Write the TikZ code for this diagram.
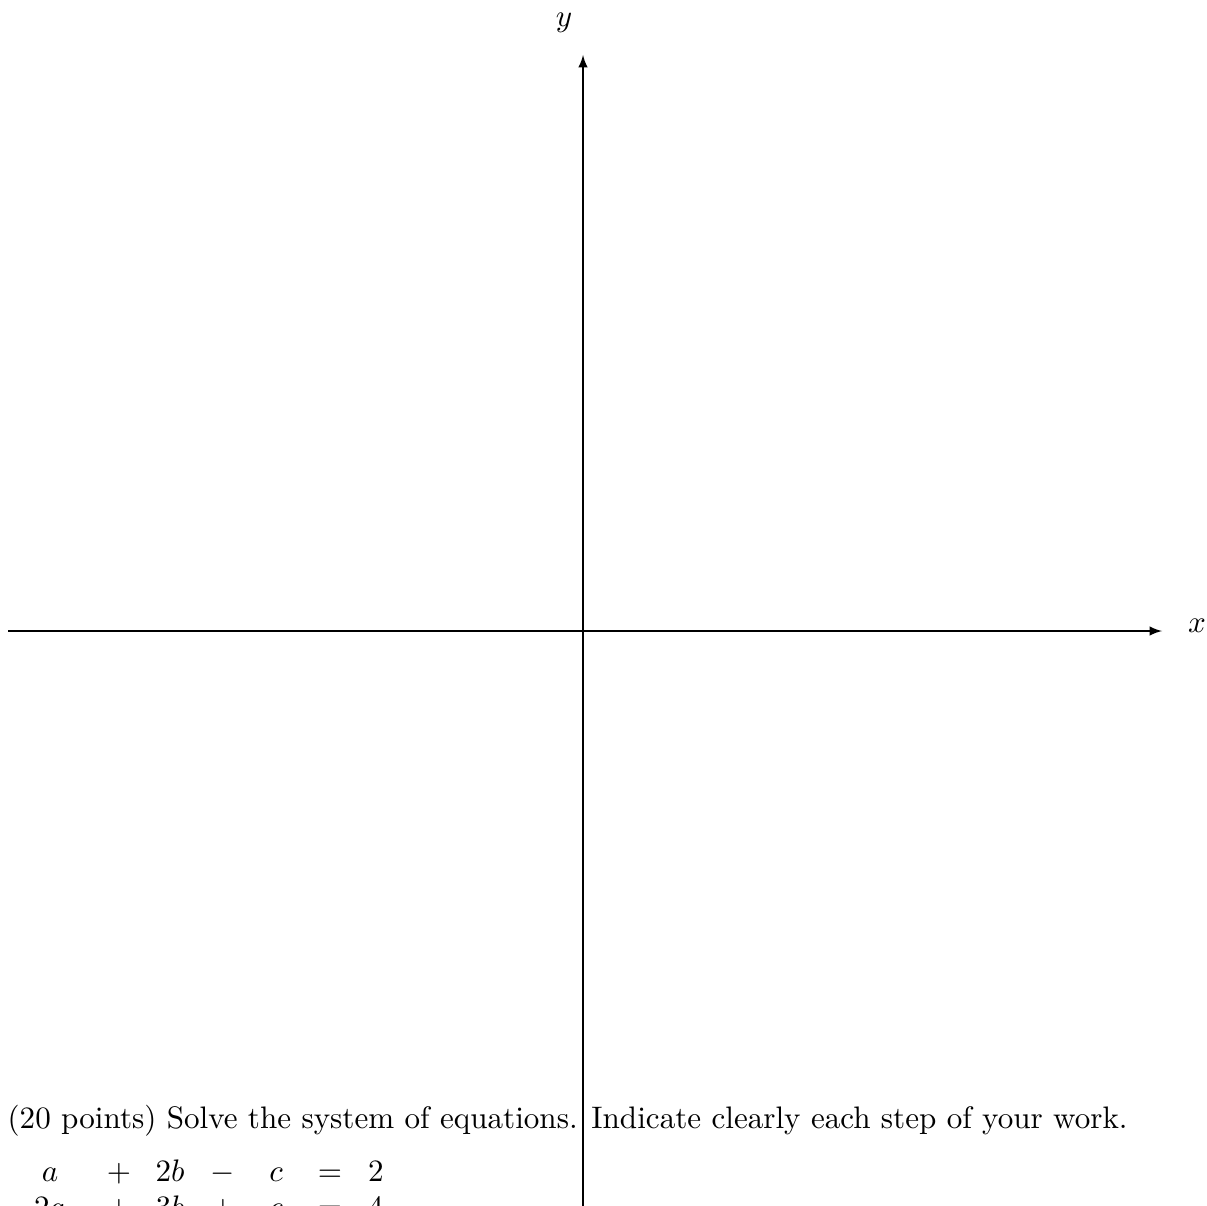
\documentclass[tikz,border=0pt]{standalone}
\usetikzlibrary{arrows}
\tikzset{
  axis/.style={thin,->,>=latex},
  lbl/.style={inner sep=0pt,anchor=base},
  eq/.style={inner sep=0pt,anchor=base}
}
\begin{document}
\begin{tikzpicture}[x=0.3215pt,y=-0.3215pt]
\useasboundingbox (0,0) rectangle (1207,1205);
\clip (0,0) rectangle (1207,1205);
% axes
\coordinate (xs) at (8,631);
\coordinate (xe) at (1162,631);
\coordinate (ys) at (583,1230);
\coordinate (ye) at (583,55);
\draw[axis] (xs) -- (xe);
\draw[axis] (ys) -- (ye);
\node[lbl] (xl) at (1197,632) {$x$};
\node[lbl] (yl) at (564,27) {$y$};
% problem text
\node[inner sep=0pt,anchor=base west] (txt) at (7,1128)
  {(20 points) Solve the system of equations. Indicate clearly each step of your work.};
% equations row 1
\node[eq] (a1) at (50,1181) {$a$};
\node[eq] (a2) at (119,1181) {$+$};
\node[eq] (a3) at (170,1181) {$2b$};
\node[eq] (a4) at (223,1181) {$-$};
\node[eq] (a5) at (276,1181) {$c$};
\node[eq] (a6) at (330,1181) {$=$};
\node[eq] (a7) at (376,1181) {$2$};
% equations row 2
\node[eq] (b1) at (50,1217) {$2a$};
\node[eq] (b2) at (119,1217) {$+$};
\node[eq] (b3) at (170,1217) {$3b$};
\node[eq] (b4) at (223,1217) {$+$};
\node[eq] (b5) at (276,1217) {$c$};
\node[eq] (b6) at (330,1217) {$=$};
\node[eq] (b7) at (376,1217) {$4$};
\end{tikzpicture}
\end{document}
